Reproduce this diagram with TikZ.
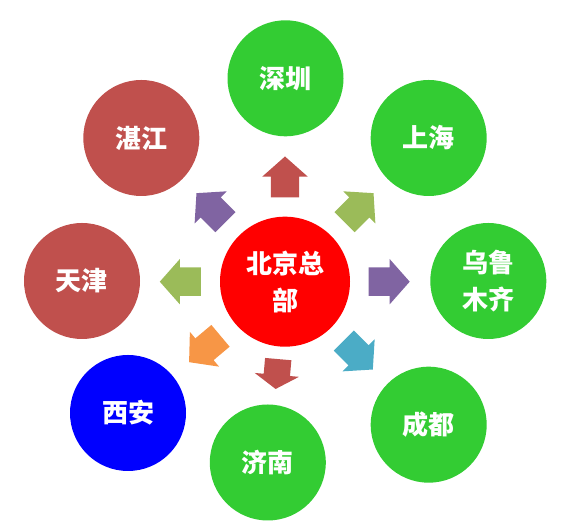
\documentclass[tikz,border=0pt]{standalone}
\usepackage{fontspec}
\newfontfamily\cjk{Noto Sans CJK SC}
\usetikzlibrary{shapes.arrows,calc}
\definecolor{citygreen}{HTML}{33CC33}
\definecolor{cityred}{HTML}{C0504D}
\definecolor{cityblue}{HTML}{0000FF}
\definecolor{hubred}{HTML}{FF0000}
\definecolor{arrowred}{HTML}{C0504D}
\definecolor{arrowolive}{HTML}{9BBB59}
\definecolor{arrowpurple}{HTML}{8064A2}
\definecolor{arrowteal}{HTML}{4BACC6}
\definecolor{arroworange}{HTML}{F79646}

\begin{document}
\begin{tikzpicture}[
  x=1pt, y=1pt,
  font=\cjk\bfseries\fontsize{26}{37}\selectfont,
  city/.style={circle, minimum size=116pt, inner sep=0pt, text=white, align=center},
  hub/.style={city, fill=hubred, minimum size=130pt},
  blockarrow/.style={single arrow, draw=none, inner xsep=0pt, inner ysep=14pt,
    minimum width=0pt, minimum height=41pt, single arrow head extend=8.5pt,
    single arrow tip angle=97, anchor=tail}
]
\useasboundingbox (0,0) rectangle (566,532);

% head office
\node[hub] (beijing) at (285,250.3) {北京总\\部};

% branch offices
\node[city, fill=citygreen] (shenzhen) at (285.5,453.7) {深圳};
\node[city, fill=citygreen] (shanghai) at (428.7,394) {上海};
\node[city, fill=citygreen] (urumqi) at (488.3,251) {乌鲁\\木齐};
\node[city, fill=citygreen] (chengdu) at (428.7,107.3) {成都};
\node[city, fill=citygreen] (jinan) at (267.8,69.5) {济南};
\node[city, fill=cityblue] (xian) at (128,119) {西安};
\node[city, fill=cityred] (tianjin) at (82,251) {天津};
\node[city, fill=cityred] (zhanjiang) at (141.3,394) {湛江};

% block arrows
\node[blockarrow, fill=arrowred, rotate=90] (toshenzhen)
  at ($(beijing.center)+(90:84)$) {};
\node[blockarrow, fill=arrowolive, rotate=45] (toshanghai)
  at ($(beijing.center)+(45:84)$) {};
\node[blockarrow, fill=arrowpurple, rotate=0] (tourumqi)
  at ($(beijing.center)+(0:83.5)$) {};
\node[blockarrow, fill=arrowteal, rotate=-45] (tochengdu)
  at ($(beijing.center)+(-45:83)$) {};
\node[blockarrow, fill=arrowred, rotate=-95, inner ysep=13pt,
  single arrow head extend=9pt, minimum height=30pt,
  single arrow tip angle=115] (tojinan)
  at ($(beijing.center)+(-95:77.5)$) {};
\node[blockarrow, fill=arroworange, rotate=220] (toxian)
  at ($(beijing.center)+(220:84)$) {};
\node[blockarrow, fill=arrowolive, rotate=180] (totianjin)
  at ($(beijing.center)+(180:84)$) {};
\node[blockarrow, fill=arrowpurple, rotate=135] (tozhanjiang)
  at ($(beijing.center)+(135:84)$) {};

\end{tikzpicture}
\end{document}
